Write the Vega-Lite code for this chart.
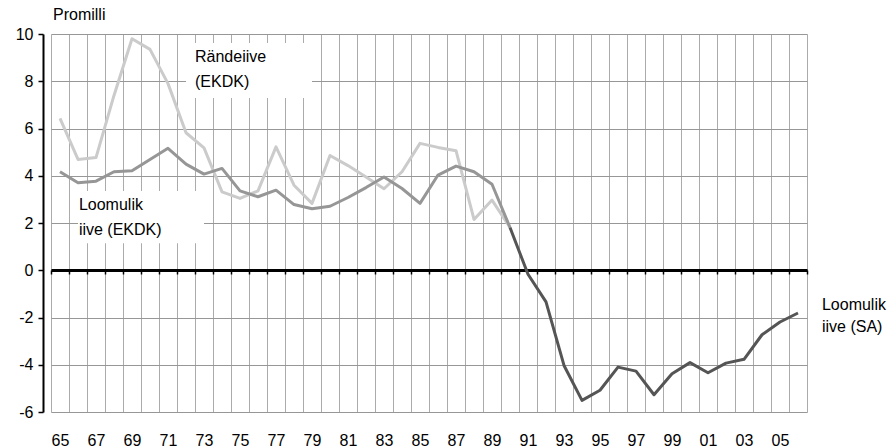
{
  "$schema": "https://vega.github.io/schema/vega-lite/v6.json",
  "width": 756,
  "height": 378,
  "autosize": {"type": "none"},
  "padding": {"left": 51, "top": 34, "right": 87, "bottom": 36},
  "background": "white",
  "config": {
    "font": "Liberation Sans",
    "view": {"stroke": null},
    "axis": {"labelFont": "Liberation Sans", "labelColor": "black", "labelFontSize": 16}
  },
  "title": {"text": "Promilli", "anchor": "start", "frame": "group", "fontSize": 16, "fontWeight": "normal", "font": "Liberation Sans", "color": "black", "offset": 3, "dx": 2},
  "datasets": {
    "series": [
      {"year": 1965, "series": "Rändeiive (EKDK)", "value": 6.43},
      {"year": 1966, "series": "Rändeiive (EKDK)", "value": 4.69},
      {"year": 1967, "series": "Rändeiive (EKDK)", "value": 4.77},
      {"year": 1968, "series": "Rändeiive (EKDK)", "value": 7.4},
      {"year": 1969, "series": "Rändeiive (EKDK)", "value": 9.8},
      {"year": 1970, "series": "Rändeiive (EKDK)", "value": 9.35},
      {"year": 1971, "series": "Rändeiive (EKDK)", "value": 7.9},
      {"year": 1972, "series": "Rändeiive (EKDK)", "value": 5.82},
      {"year": 1973, "series": "Rändeiive (EKDK)", "value": 5.18},
      {"year": 1974, "series": "Rändeiive (EKDK)", "value": 3.32},
      {"year": 1975, "series": "Rändeiive (EKDK)", "value": 3.04},
      {"year": 1976, "series": "Rändeiive (EKDK)", "value": 3.36},
      {"year": 1977, "series": "Rändeiive (EKDK)", "value": 5.22},
      {"year": 1978, "series": "Rändeiive (EKDK)", "value": 3.6},
      {"year": 1979, "series": "Rändeiive (EKDK)", "value": 2.83},
      {"year": 1980, "series": "Rändeiive (EKDK)", "value": 4.86},
      {"year": 1981, "series": "Rändeiive (EKDK)", "value": 4.43},
      {"year": 1982, "series": "Rändeiive (EKDK)", "value": 3.95},
      {"year": 1983, "series": "Rändeiive (EKDK)", "value": 3.45},
      {"year": 1984, "series": "Rändeiive (EKDK)", "value": 4.17},
      {"year": 1985, "series": "Rändeiive (EKDK)", "value": 5.37},
      {"year": 1986, "series": "Rändeiive (EKDK)", "value": 5.2},
      {"year": 1987, "series": "Rändeiive (EKDK)", "value": 5.06},
      {"year": 1988, "series": "Rändeiive (EKDK)", "value": 2.15},
      {"year": 1989, "series": "Rändeiive (EKDK)", "value": 2.97},
      {"year": 1990, "series": "Rändeiive (EKDK)", "value": 1.81},
      {"year": 1965, "series": "Loomulik iive (EKDK)", "value": 4.17},
      {"year": 1966, "series": "Loomulik iive (EKDK)", "value": 3.7},
      {"year": 1967, "series": "Loomulik iive (EKDK)", "value": 3.77},
      {"year": 1968, "series": "Loomulik iive (EKDK)", "value": 4.17},
      {"year": 1969, "series": "Loomulik iive (EKDK)", "value": 4.21},
      {"year": 1970, "series": "Loomulik iive (EKDK)", "value": 4.69},
      {"year": 1971, "series": "Loomulik iive (EKDK)", "value": 5.16},
      {"year": 1972, "series": "Loomulik iive (EKDK)", "value": 4.49},
      {"year": 1973, "series": "Loomulik iive (EKDK)", "value": 4.07},
      {"year": 1974, "series": "Loomulik iive (EKDK)", "value": 4.31},
      {"year": 1975, "series": "Loomulik iive (EKDK)", "value": 3.36},
      {"year": 1976, "series": "Loomulik iive (EKDK)", "value": 3.11},
      {"year": 1977, "series": "Loomulik iive (EKDK)", "value": 3.39},
      {"year": 1978, "series": "Loomulik iive (EKDK)", "value": 2.78},
      {"year": 1979, "series": "Loomulik iive (EKDK)", "value": 2.6},
      {"year": 1980, "series": "Loomulik iive (EKDK)", "value": 2.71},
      {"year": 1981, "series": "Loomulik iive (EKDK)", "value": 3.08},
      {"year": 1982, "series": "Loomulik iive (EKDK)", "value": 3.5},
      {"year": 1983, "series": "Loomulik iive (EKDK)", "value": 3.95},
      {"year": 1984, "series": "Loomulik iive (EKDK)", "value": 3.46},
      {"year": 1985, "series": "Loomulik iive (EKDK)", "value": 2.83},
      {"year": 1986, "series": "Loomulik iive (EKDK)", "value": 4.03},
      {"year": 1987, "series": "Loomulik iive (EKDK)", "value": 4.41},
      {"year": 1988, "series": "Loomulik iive (EKDK)", "value": 4.17},
      {"year": 1989, "series": "Loomulik iive (EKDK)", "value": 3.64},
      {"year": 1990, "series": "Loomulik iive (EKDK)", "value": 1.81},
      {"year": 1990, "series": "Loomulik iive (SA)", "value": 1.81},
      {"year": 1991, "series": "Loomulik iive (SA)", "value": -0.17},
      {"year": 1992, "series": "Loomulik iive (SA)", "value": -1.34},
      {"year": 1993, "series": "Loomulik iive (SA)", "value": -4.03},
      {"year": 1994, "series": "Loomulik iive (SA)", "value": -5.51},
      {"year": 1995, "series": "Loomulik iive (SA)", "value": -5.08},
      {"year": 1996, "series": "Loomulik iive (SA)", "value": -4.1},
      {"year": 1997, "series": "Loomulik iive (SA)", "value": -4.27},
      {"year": 1998, "series": "Loomulik iive (SA)", "value": -5.27},
      {"year": 1999, "series": "Loomulik iive (SA)", "value": -4.38},
      {"year": 2000, "series": "Loomulik iive (SA)", "value": -3.91},
      {"year": 2001, "series": "Loomulik iive (SA)", "value": -4.34},
      {"year": 2002, "series": "Loomulik iive (SA)", "value": -3.93},
      {"year": 2003, "series": "Loomulik iive (SA)", "value": -3.77},
      {"year": 2004, "series": "Loomulik iive (SA)", "value": -2.73},
      {"year": 2005, "series": "Loomulik iive (SA)", "value": -2.19},
      {"year": 2006, "series": "Loomulik iive (SA)", "value": -1.81}
    ],
    "boxes": [
      {"x0": 1972, "x1": 1979, "y0": 7.29, "y1": 9.62},
      {"x0": 1966, "x1": 1973, "y0": 1.14, "y1": 3.35}
    ],
    "notes": [
      {"group": "r", "label": "Rändeiive", "year": 1973, "y": 9.03},
      {"group": "r", "label": "(EKDK)", "year": 1973, "y": 7.97},
      {"group": "l", "label": "Loomulik", "year": 1966, "y": 2.75},
      {"group": "l", "label": "iive (EKDK)", "year": 1966, "y": 1.69},
      {"group": "s", "label": "Loomulik", "year": 2006, "y": -1.48},
      {"group": "s", "label": "iive (SA)", "year": 2006, "y": -2.42}
    ]
  },
  "encoding": {
    "y": {
      "type": "quantitative",
      "scale": {"domain": [-6, 10], "nice": false, "zero": false},
      "axis": {
        "title": null,
        "offset": 8,
        "values": [-6, -4, -2, 0, 2, 4, 6, 8, 10],
        "domain": true, "domainColor": "black", "domainWidth": 2,
        "ticks": true, "tickColor": "black", "tickSize": 5, "tickWidth": 1.5,
        "grid": true, "gridColor": "#979797", "gridWidth": 1,
        "labelPadding": 5, "labelFontSize": 16,
        "labelExpr": "toString(datum.value)"
      }
    }
  },
  "layer": [
    {
      "data": {"name": "series"},
      "mark": {"type": "line", "strokeWidth": 3, "strokeJoin": "round"},
      "encoding": {
        "x": {
          "field": "year", "type": "ordinal",
          "scale": {"type": "band", "paddingInner": 0, "paddingOuter": 0},
          "axis": {
            "title": null,
            "offset": -142,
            "bandPosition": 0.5,
            "tickBand": "extent",
            "domain": true, "domainColor": "black", "domainWidth": 3,
            "ticks": true, "tickColor": "black", "tickSize": 4, "tickWidth": 1.5,
            "grid": true, "gridColor": "#ababab", "gridWidth": 1,
            "labelAngle": 0, "labelBaseline": "middle", "labelPadding": 166,
            "labelFontSize": 16,
            "labelExpr": "datum.value % 2 == 1 ? substring(toString(datum.value), 2) : ''"
          }
        },
        "y": {"field": "value", "type": "quantitative"},
        "color": {
          "field": "series", "type": "nominal",
          "scale": {"domain": ["Rändeiive (EKDK)", "Loomulik iive (EKDK)", "Loomulik iive (SA)"], "range": ["#cbcbcb", "#969696", "#555555"]},
          "legend": null
        }
      }
    },
    {
      "data": {"name": "boxes"},
      "mark": {"type": "rect", "fill": "white", "stroke": null},
      "encoding": {
        "x": {"field": "x0", "type": "ordinal"},
        "x2": {"field": "x1"},
        "y": {"field": "y0", "type": "quantitative"},
        "y2": {"field": "y1"}
      }
    },
    {
      "data": {"name": "notes"},
      "transform": [{"filter": "datum.group == 'r'"}],
      "mark": {"type": "text", "align": "left", "baseline": "middle", "fontSize": 16, "font": "Liberation Sans", "color": "black"},
      "encoding": {
        "x": {"field": "year", "type": "ordinal", "bandPosition": 0},
        "y": {"field": "y", "type": "quantitative"},
        "text": {"field": "label"}
      }
    },
    {
      "data": {"name": "notes"},
      "transform": [{"filter": "datum.group == 'l'"}],
      "mark": {"type": "text", "align": "left", "baseline": "middle", "fontSize": 16, "font": "Liberation Sans", "color": "black"},
      "encoding": {
        "x": {"field": "year", "type": "ordinal", "bandPosition": 0.55},
        "y": {"field": "y", "type": "quantitative"},
        "text": {"field": "label"}
      }
    },
    {
      "data": {"name": "notes"},
      "transform": [{"filter": "datum.group == 's'"}],
      "mark": {"type": "text", "align": "left", "baseline": "middle", "fontSize": 16, "font": "Liberation Sans", "color": "black"},
      "encoding": {
        "x": {"field": "year", "type": "ordinal", "bandPosition": 1.83},
        "y": {"field": "y", "type": "quantitative"},
        "text": {"field": "label"}
      }
    }
  ]
}
